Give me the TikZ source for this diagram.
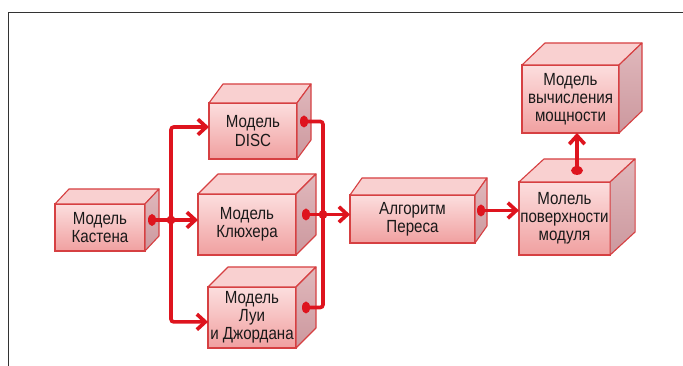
\documentclass[tikz,border=0pt]{standalone}
\usepackage{fontspec}
\setmainfont{Liberation Sans}[FakeStretch=0.86]
\usetikzlibrary{positioning,calc,arrows.meta}
\definecolor{BoxRed}{RGB}{214,64,66}
\definecolor{LinkRed}{RGB}{222,20,30}
\definecolor{FrontTop}{RGB}{252,222,222}
\definecolor{FrontBot}{RGB}{240,160,160}
\definecolor{TopFace}{RGB}{249,208,208}
\definecolor{SideTop}{RGB}{224,184,188}
\definecolor{SideBot}{RGB}{204,152,158}
\tikzset{
  cube/.style={draw=BoxRed,line width=0.8pt,top color=FrontTop,
               bottom color=FrontBot,align=center,inner sep=1pt,
               outer sep=0pt,text=black!90,
               font=\fontsize{12.5}{13}\selectfont},
  topface/.style={draw=BoxRed,line width=0.8pt,fill=TopFace,line join=round},
  sideface/.style={draw=BoxRed,line width=0.8pt,top color=SideTop,
                   bottom color=SideBot,line join=round},
  link/.style={draw=LinkRed,line width=2.6pt,rounded corners=2pt},
  arrow/.style={link,-{Straight Barb[length=6pt,width=11pt]}},
}

\begin{document}
\begin{tikzpicture}
  \useasboundingbox (0,0) rectangle (17.075,9.15);
  % frame
  \draw[line width=1pt,black!80] (17.075,8.8375) -| (0.2125,0);

  \node[cube,minimum width=2.25cm,minimum height=1.175cm] (kasten) at (2.5,3.463) {Модель\\Кастена};
  \node[cube,minimum width=2.2cm,minimum height=1.4cm] (disc) at (6.325,5.875) {Модель\\DISC};
  \node[cube,minimum width=2.45cm,minimum height=1.525cm] (kluch) at (6.175,3.5375) {Модель\\Клюхера};
  \node[cube,minimum width=2.2cm,minimum height=1.525cm] (lui) at (6.3,1.2125) {Модель\\Луи\\и Джордана};
  \node[cube,minimum width=3.125cm,minimum height=1.2cm] (peres) at (10.3125,3.675) {Алгоритм\\Переса};
  \node[cube,minimum width=2.275cm,minimum height=1.825cm] (modul) at (14.1125,3.6875) {Молель\\поверхности\\модуля};
  \node[cube,minimum width=2.425cm,minimum height=1.7cm] (power) at (14.2625,6.675) {Модель\\вычисления\\мощности};

  % top and side faces
  \foreach \n/\dx/\dy in {kasten/0.35/0.375, disc/0.35/0.475, kluch/0.5/0.5,
                          lui/0.5/0.5, peres/0.3/0.425, modul/0.625/0.575,
                          power/0.575/0.55}{
    \draw[topface] (\n.north west) -- ++(\dx,\dy)
      -- ([shift={(\dx,\dy)}]\n.north east) -- (\n.north east) -- cycle;
    \draw[sideface] (\n.north east) -- ++(\dx,\dy)
      -- ([shift={(\dx,\dy)}]\n.south east) -- (\n.south east) -- cycle;
    \coordinate (\n-side) at ($(\n.east)+(0.5*\dx,0.5*\dy)$);
    \coordinate (\n-top) at ($(\n.north)+(0.5*\dx,0.5*\dy)$);
  }

  \coordinate (split) at ([xshift=0.475cm]kasten-side);
  \coordinate (merge) at ([xshift=0.425cm]kluch-side);

  \draw[arrow] (kasten-side) -- (kasten-side -| kluch.west);
  \draw[arrow] (split) |- ([yshift=0.1cm]disc.west);
  \draw[arrow] (split) |- ([yshift=-0.11cm]lui.west);
  \draw[link] (disc-side) -| (merge);
  \draw[link] (lui-side) -| (merge);
  \draw[link] (kluch-side) -- (merge);
  \draw[arrow] (merge) -- (merge -| peres.west);
  \draw[arrow] (peres-side) -- (peres-side -| modul.west);
  \draw[arrow] (modul-top) -- (modul-top |- power.south);

  % dots
  \foreach \n in {kasten,disc,kluch,lui,peres}
    \fill[LinkRed] (\n-side) ellipse (0.1 and 0.15);
  \fill[LinkRed] (modul-top) ellipse (0.15 and 0.11);
  \fill[LinkRed] (split) circle (0.11);
  \fill[LinkRed] (merge) circle (0.11);
\end{tikzpicture}
\end{document}
